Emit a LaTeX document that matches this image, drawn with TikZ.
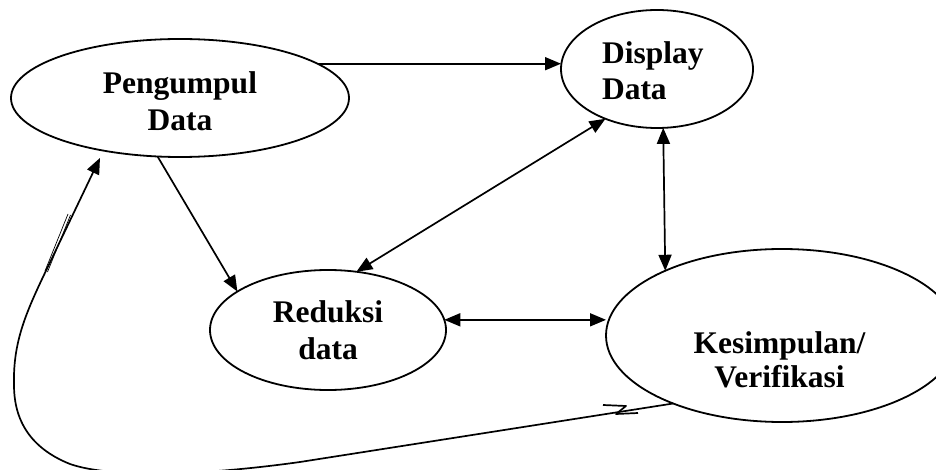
\documentclass[tikz,border=0pt]{standalone}
\usepackage{fontspec}
\setmainfont{Liberation Serif}
\usetikzlibrary{shapes.geometric,arrows.meta}
\begin{document}
\begin{tikzpicture}[x=1pt,y=-1pt,
  oval/.style={draw, ellipse, line width=1.8pt, inner sep=0pt, outer sep=0pt},
  lbl/.style={font=\bfseries\fontsize{31.5}{37}\selectfont, inner sep=0pt, outer sep=0pt},
  conn/.style={line width=1.7pt},
  arr/.style={conn, -{Triangle[length=16pt,width=13pt]}},
  darr/.style={conn, {Triangle[length=16pt,width=13pt]}-{Triangle[length=16pt,width=13pt]}}]
\useasboundingbox (0,0) rectangle (936,470);
% ellipses
\node[oval, minimum width=338pt, minimum height=118pt] (pg) at (180,98) {};
\node[oval, minimum width=192pt, minimum height=118pt] (dd) at (657,69) {};
\node[oval, minimum width=236pt, minimum height=120pt] (rd) at (328,330) {};
\node[oval, minimum width=352pt, minimum height=173pt] (ks) at (782,335.5) {};
% labels
\node[lbl, align=center, anchor=north] (pgt) at (180,72) {Pengumpul\\Data};
\node[lbl, align=left, anchor=north west, font=\bfseries\fontsize{31.5}{36}\selectfont] (ddt) at (602,42) {Display\\Data};
\node[lbl, align=center, anchor=north] (rdt) at (328,301) {Reduksi\\data};
\node[lbl, align=center, anchor=north, font=\bfseries\fontsize{31.5}{34}\selectfont] (kst) at (779.5,332) {Kesimpulan/\\Verifikasi};
% connectors
\draw[arr] (pg.14) -- (pg.14 -| dd.west);
\draw[arr] (pg.-111) -- (rd.157);
\draw[darr] (rd.64) -- (dd.-136);
\draw[darr] (dd.-84) -- (ks.151.5);
\draw[darr] (rd.5) -- (rd.5 -| ks.west);
\coordinate (pgin) at ([yshift=-8pt]pg.-147);
\draw[arr] (ks.-148) -- (300,462)
  .. controls (200,476) and (110,478) .. (70,464)
  .. controls (30,448) and (14,420) .. (14,385)
  .. controls (13,345) and (24,317) .. (43,277) -- (pgin);
% small stray strokes
\draw[line width=0.7pt] (68,214) -- (45,271);
\draw[line width=0.7pt] (70.5,215) -- (47.5,272);
\draw[line width=1.7pt, line join=round] (603,405) -- (626,406) -- (616,414) -- (638,413);
\end{tikzpicture}
\end{document}
